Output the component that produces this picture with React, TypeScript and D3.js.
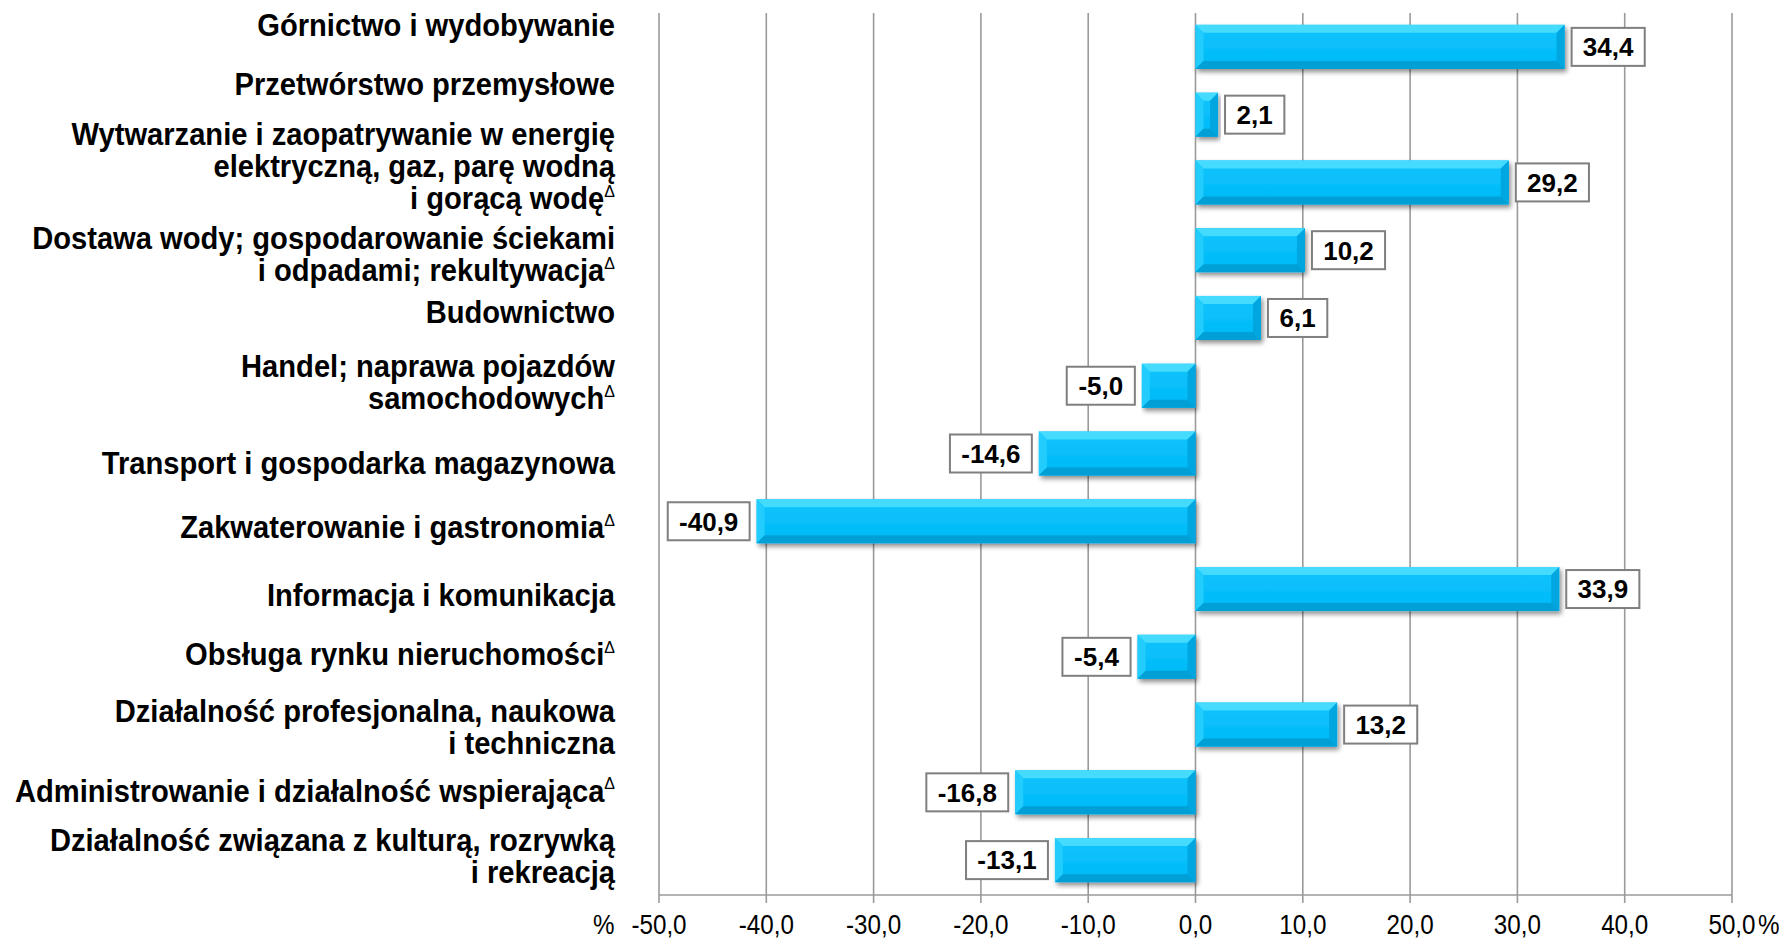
import React from "react";
import * as d3 from "d3";

const categories: string[][] = [
  ["Górnictwo i wydobywanie"],
  ["Przetwórstwo przemysłowe"],
  ["Wytwarzanie i zaopatrywanie w energię", "elektryczną, gaz, parę wodną", "i gorącą wodę"],
  ["Dostawa wody; gospodarowanie ściekami", "i odpadami; rekultywacja"],
  ["Budownictwo"],
  ["Handel; naprawa pojazdów", "samochodowych"],
  ["Transport i gospodarka magazynowa"],
  ["Zakwaterowanie i gastronomia"],
  ["Informacja i komunikacja"],
  ["Obsługa rynku nieruchomości"],
  ["Działalność profesjonalna, naukowa", "i techniczna"],
  ["Administrowanie i działalność wspierająca"],
  ["Działalność związana z kulturą, rozrywką", "i rekreacją"],
];
const deltaMark: boolean[] = [false, false, true, true, false, true, false, true, false, true, false, true, false];
const values: number[] = [34.4, 2.1, 29.2, 10.2, 6.1, -5.0, -14.6, -40.9, 33.9, -5.4, 13.2, -16.8, -13.1];
const ticks: number[] = [-50, -40, -30, -20, -10, 0, 10, 20, 30, 40, 50];

// layout-only: vertical nudge of each category label relative to its bar
const labelShift: number[] = [-22, -31, -17, 4, -6, -4, 9, 6, 6, -3, 2, -2, -4];

const W = 1791;
const H = 941;
const fmt = (v: number) => v.toFixed(1).replace(".", ",");

export default function App() {
  const x = d3.scaleLinear().domain([-50, 50]).range([659, 1732]);
  const y = d3
    .scaleBand<number>()
    .domain(d3.range(values.length))
    .range([13, 894])
    .paddingInner(0.35)
    .paddingOuter(0.175);
  const axisY = 895;
  const bw = y.bandwidth();
  const bev = 8;
  const labelFont = 31;
  const lineH = 32;
  const valFont = 26;
  const tickFont = 27.5;

  return (
    <svg
      width={W}
      height={H}
      style={{ position: "absolute", left: 0, top: 0, background: "#fff" }}
      fontFamily="'Liberation Sans', Arial, sans-serif"
    >
      <defs>
        <filter id="sh" x="-5%" y="-20%" width="115%" height="160%">
          <feGaussianBlur in="SourceAlpha" stdDeviation="2.5" />
          <feOffset dx="2" dy="3" result="o" />
          <feComponentTransfer>
            <feFuncA type="linear" slope="0.45" />
          </feComponentTransfer>
          <feMerge>
            <feMergeNode />
            <feMergeNode in="SourceGraphic" />
          </feMerge>
        </filter>
        <linearGradient id="mainG" x1="0" y1="0" x2="0" y2="1">
          <stop offset="0" stopColor="#0cc4fd" />
          <stop offset="1" stopColor="#02b9f7" />
        </linearGradient>
      </defs>

      {/* gridlines */}
      {ticks.map((t) => (
        <line key={"g" + t} x1={x(t)} x2={x(t)} y1={13} y2={axisY + 8} stroke="#9a9a9a" strokeWidth={1.6} />
      ))}
      <line x1={x(-50)} x2={x(50)} y1={axisY} y2={axisY} stroke="#9a9a9a" strokeWidth={1.6} />

      {/* tick labels */}
      {ticks.map((t) => (
        <text
          key={"t" + t}
          transform={`translate(${x(t)},934) scale(0.88,1)`}
          fontSize={tickFont}
          textAnchor="middle"
          fill="#000"
        >
          {fmt(t)}
        </text>
      ))}
      <text transform="translate(593,934) scale(0.88,1)" fontSize={tickFont} fill="#000">%</text>
      <text transform="translate(1758,934) scale(0.88,1)" fontSize={tickFont} fill="#000">%</text>

      {/* bars */}
      {values.map((v, i) => {
        const x0 = Math.min(x(0), x(v));
        const x1 = Math.max(x(0), x(v));
        const y0 = y(i)!;
        const y1 = y0 + bw;
        const w = x1 - x0;
        const b = Math.min(bev, w / 2);
        return (
          <g key={"b" + i} filter="url(#sh)">
            <rect x={x0} y={y0} width={w} height={bw} fill="url(#mainG)" />
            <polygon points={`${x0},${y0} ${x1},${y0} ${x1 - b},${y0 + bev} ${x0 + b},${y0 + bev}`} fill="#45dbff" />
            <polygon points={`${x0},${y0} ${x0 + b},${y0 + bev} ${x0 + b},${y1 - bev} ${x0},${y1}`} fill="#22cdfd" />
            <polygon points={`${x1},${y0} ${x1},${y1} ${x1 - b},${y1 - bev} ${x1 - b},${y0 + bev}`} fill="#04a6df" />
            <polygon points={`${x0},${y1} ${x0 + b},${y1 - bev} ${x1 - b},${y1 - bev} ${x1},${y1}`} fill="#029fd6" />
          </g>
        );
      })}

      {/* value labels */}
      {values.map((v, i) => {
        const txt = fmt(v);
        const tw = txt.length * 0.53 * valFont - (txt.includes("-") ? 5 : 0);
        const boxW = tw + 18;
        const boxH = 38;
        const cy = y(i)! + bw / 2;
        const gap = 7;
        const bx = v >= 0 ? x(v) + gap : x(v) - gap - boxW;
        return (
          <g key={"v" + i}>
            <rect x={bx} y={cy - boxH / 2} width={boxW} height={boxH} fill="#fff" stroke="#7f7f7f" strokeWidth={2} />
            <text x={bx + boxW / 2} y={cy + valFont * 0.36} fontSize={valFont} fontWeight="bold" textAnchor="middle" fill="#000">
              {txt}
            </text>
          </g>
        );
      })}

      {/* category labels */}
      {categories.map((lines, i) => {
        const cy = y(i)! + bw / 2 + labelShift[i];
        const n = lines.length;
        return (
          <g key={"c" + i} transform="translate(615,0) scale(0.94,1)">
            <text fontSize={labelFont} fontWeight="bold" textAnchor="end" fill="#000">
              {lines.map((ln, k) => {
                const ly = cy + (k - (n - 1) / 2) * lineH + labelFont * 0.36;
                return (
                  <tspan key={k} x={0} y={ly}>
                    {ln}
                    {deltaMark[i] && k === n - 1 ? (
                      <tspan fontSize={17} fontWeight="normal" dy={-12}>
                        {"\u0394"}
                      </tspan>
                    ) : null}
                  </tspan>
                );
              })}
            </text>
          </g>
        );
      })}
    </svg>
  );
}
